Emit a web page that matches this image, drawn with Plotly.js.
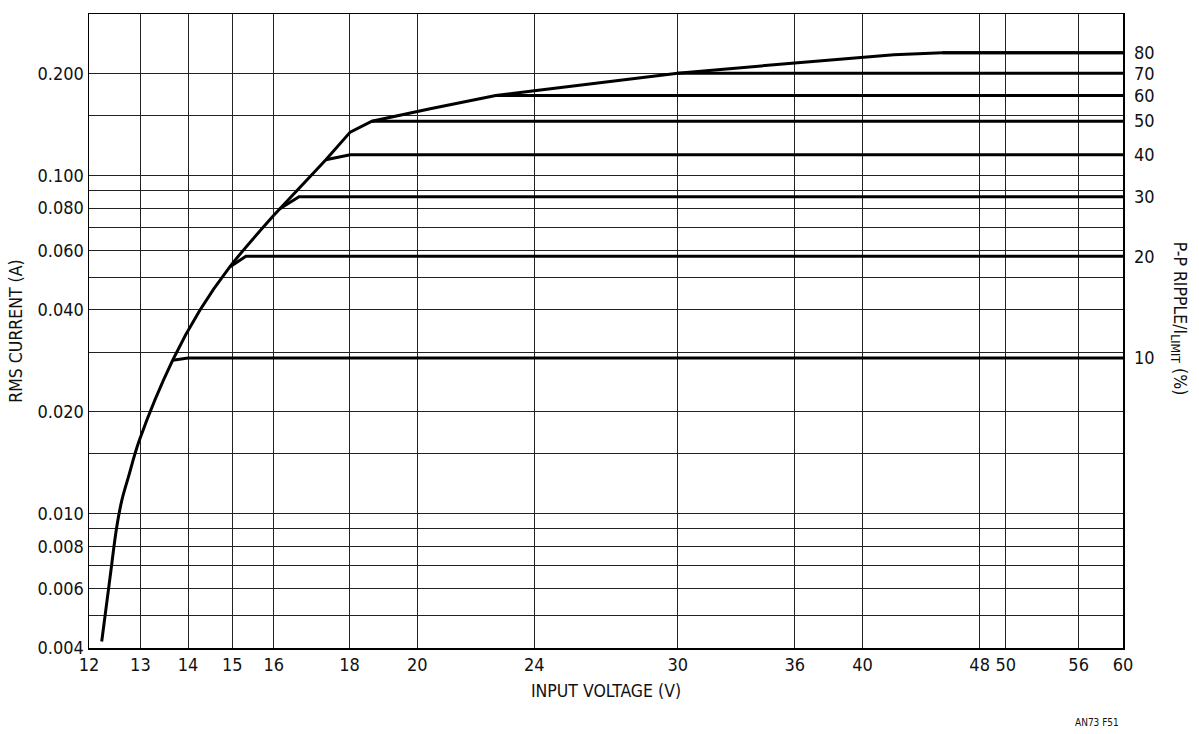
<!DOCTYPE html>
<html>
<head>
<meta charset="utf-8">
<script src="https://cdn.plot.ly/plotly-3.0.1.min.js"></script>
<style>html,body{margin:0;padding:0;background:#fff}#chart{width:1199px;height:734px}</style>
</head>
<body>
<div id="chart"></div>
<script>
// Envelope curve, lower (smooth) part: input voltage (V) vs RMS current (A)
const envLowV = [12.24, 12.40, 12.53, 12.63, 12.76, 12.98, 13.67, 14.26, 14.94, 16.00];
const envLowI = [0.00418, 0.00648, 0.00913, 0.01095, 0.01283, 0.01648, 0.0284, 0.0399, 0.0536, 0.0762];
// Envelope curve, upper (segmented) part
const envHighV = [16.00, 16.15, 17.35, 18.02, 18.64, 20.41, 22.6, 24.0, 30.0, 36.0, 40.0, 42.0, 45.3, 60];
const envHighI = [0.0762, 0.0796, 0.1112, 0.1342, 0.1446, 0.1574, 0.1723, 0.178, 0.2004, 0.215, 0.2236, 0.2272, 0.2305, 0.2305];

// Ripple branches (P-P ripple / I_LIMIT, %)
const ripplePct = [10, 20, 30, 40, 50, 60, 70, 80];
const plateauI  = [0.0288, 0.0576, 0.0864, 0.1151, 0.1446, 0.1723, 0.2004, 0.2305];
const kneeV     = [13.67, 14.94, 16.15, 17.35, 18.64, 22.6, 30.0, 45.3];
const kneeI     = [0.0284, 0.0536, 0.0796, 0.1112, 0.1446, 0.1723, 0.2004, 0.2305];
const flatV     = [14.0, 15.32, 16.64, 18.02, 18.64, 22.6, 30.0, 45.3];
const endV = 60;

// Axis ticks
const xTicks = [12, 13, 14, 15, 16, 18, 20, 24, 30, 36, 40, 48, 50, 56, 60];
const yTickVals = [0.004, 0.005, 0.006, 0.007, 0.008, 0.009, 0.010, 0.015, 0.020, 0.030, 0.040, 0.050, 0.060, 0.070, 0.080, 0.090, 0.100, 0.150, 0.200];
const yTickText = ['0.004', '', '0.006', '', '0.008', '', '0.010', '', '0.020', '', '0.040', '', '0.060', '', '0.080', '', '0.100', '', '0.200'];

const FONT = '"Liberation Sans Narrow", "DejaVu Sans Condensed", "Liberation Sans", Arial, sans-serif';
const LINE = {color: '#000', width: 3};
const TICKFONT = {family: FONT, size: 18, color: '#111'};
const TITLEFONT = {family: FONT, size: 17.5, color: '#111'};

const traces = [
  {x: envLowV, y: envLowI, type: 'scatter', mode: 'lines',
   line: {color: '#000', width: 3, shape: 'spline', smoothing: 1}, hoverinfo: 'skip', showlegend: false},
  {x: envHighV, y: envHighI, type: 'scatter', mode: 'lines', line: LINE, hoverinfo: 'skip', showlegend: false}
];
ripplePct.forEach((p, i) => {
  traces.push({
    x: [kneeV[i], flatV[i], endV], y: [kneeI[i], plateauI[i], plateauI[i]],
    type: 'scatter', mode: 'lines', line: LINE, name: p + '%', showlegend: false, hoverinfo: 'skip'
  });
});
// invisible trace to activate right axis
traces.push({x: [endV], y: [plateauI[0]], yaxis: 'y2', mode: 'markers', marker: {opacity: 0}, showlegend: false, hoverinfo: 'skip'});

const yRange = [Math.log10(0.004), Math.log10(0.3)];

const layout = {
  width: 1199, height: 734,
  margin: {l: 89, r: 76, t: 14, b: 86},
  paper_bgcolor: '#fff', plot_bgcolor: '#fff',
  font: {family: FONT, size: 17, color: '#111'},
  showlegend: false,
  xaxis: {
    type: 'log', range: [Math.log10(12), Math.log10(60)],
    tickmode: 'array', tickvals: xTicks, ticktext: xTicks.map(String),
    showgrid: true, gridcolor: '#222', gridwidth: 1,
    showline: true, linecolor: '#000', linewidth: 1.5, mirror: true,
    ticks: '', zeroline: false,
    tickfont: TICKFONT,
    title: {text: 'INPUT VOLTAGE (V)', font: TITLEFONT, standoff: 10}
  },
  yaxis: {
    type: 'log', range: yRange,
    tickmode: 'array', tickvals: yTickVals, ticktext: yTickText,
    showgrid: true, gridcolor: '#222', gridwidth: 1,
    showline: true, linecolor: '#000', linewidth: 1.5, mirror: true,
    ticks: '', zeroline: false,
    tickfont: TICKFONT,
    title: {text: 'RMS CURRENT (A)', font: TITLEFONT, standoff: 10}
  },
  yaxis2: {
    type: 'log', range: yRange, overlaying: 'y', side: 'right',
    tickmode: 'array', tickvals: plateauI, ticktext: ripplePct.map(String),
    showgrid: false, showline: false, ticks: '', zeroline: false,
    ticklabelstandoff: 10,
    tickfont: TICKFONT
  },
  annotations: [
    {xref: 'paper', yref: 'paper', x: 1.0535, y: 0.519, xanchor: 'center', yanchor: 'middle',
     text: 'P-P RIPPLE/I<sub>LIMIT</sub> (%)', textangle: 90, showarrow: false,
     font: TITLEFONT},
    {xref: 'paper', yref: 'paper', x: 0.975, y: -0.118, xanchor: 'center', yanchor: 'middle',
     text: 'AN73 F51', showarrow: false, font: {family: FONT, size: 10, color: '#111'}}
  ]
};

Plotly.newPlot('chart', traces, layout, {displayModeBar: false, staticPlot: true});
</script>
</body>
</html>
